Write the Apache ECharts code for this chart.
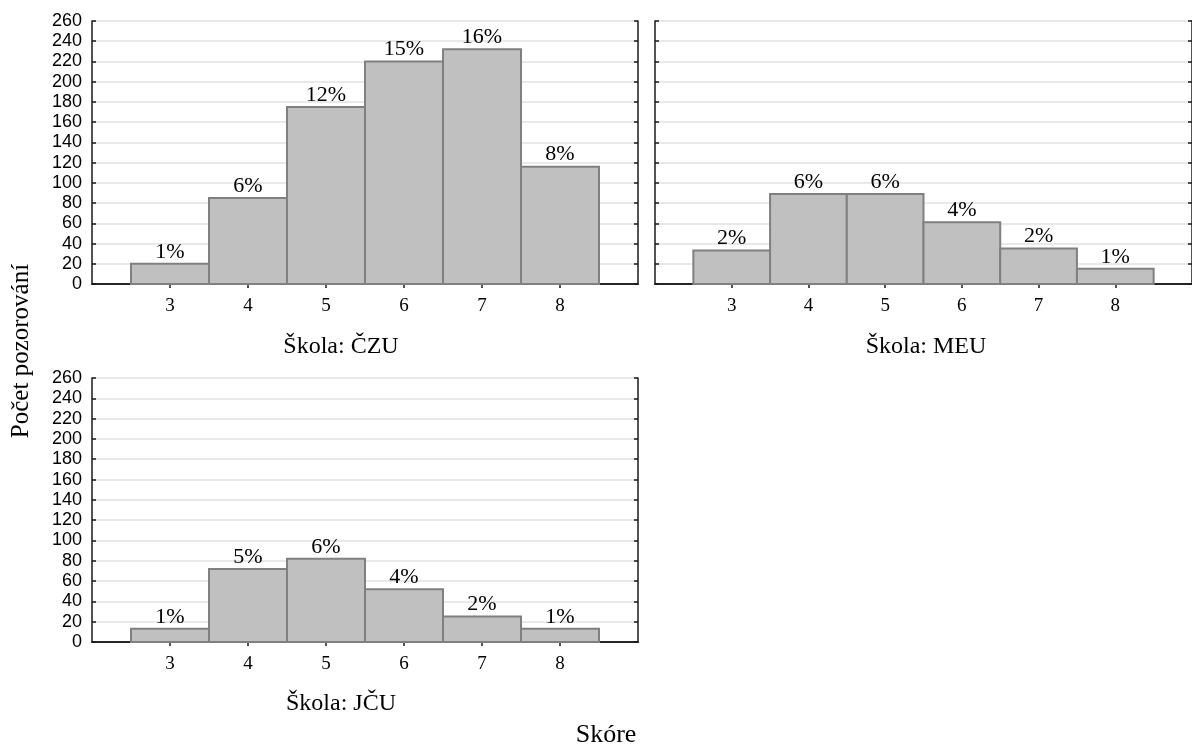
<!DOCTYPE html>
<html>
<head>
<meta charset="utf-8">
<script src="https://cdn.jsdelivr.net/npm/echarts@6/dist/echarts.min.js"></script>
<style>
html,body{margin:0;padding:0;background:#fff;}
#chart{width:1192px;height:749px;}
</style>
</head>
<body>
<div id="chart"></div>
<script>
// ---- data ----
const scores = [3, 4, 5, 6, 7, 8];
const countsCZU = [20, 85, 175, 220, 232, 116];
const countsMEU = [33, 89, 89, 61, 35, 15];
const countsJCU = [13, 72, 82, 52, 25, 13];
const pctCZU = ['1%', '6%', '12%', '15%', '16%', '8%'];
const pctMEU = ['2%', '6%', '6%', '4%', '2%', '1%'];
const pctJCU = ['1%', '5%', '6%', '4%', '2%', '1%'];
const panelTitles = ['Škola: ČZU', 'Škola: MEU', 'Škola: JČU'];
const yTitle = 'Počet pozorování';
const xTitle = 'Skóre';

const SERIF = '"Liberation Serif", "Times New Roman", serif';
const SANS = '"Liberation Sans", Arial, sans-serif';

const panels = [
  {counts: countsCZU, pct: pctCZU, grid: {left: 92, top: 21, width: 546, height: 263}, showY: true},
  {counts: countsMEU, pct: pctMEU, grid: {left: 655, top: 21, width: 546, height: 263}, showY: false},
  {counts: countsJCU, pct: pctJCU, grid: {left: 92, top: 378, width: 546, height: 264}, showY: true}
];

const grids = [], xAxes = [], yAxes = [], series = [];
const frame = {show: true, lineStyle: {color: '#1a1a1a', width: 1.5}};
const tickStyle = {color: '#1a1a1a', width: 1.5};
panels.forEach((p, i) => {
  grids.push(Object.assign({containLabel: false}, p.grid));
  xAxes.push({
    type: 'value', gridIndex: i, min: 2, max: 9, interval: 1, position: 'bottom',
    axisLine: frame, splitLine: {show: false},
    axisTick: {show: true, inside: true, length: 4, customValues: scores, lineStyle: tickStyle},
    axisLabel: {show: true, customValues: scores, margin: 13, color: '#000', fontFamily: SERIF, fontSize: 19}
  });
  xAxes.push({
    type: 'value', gridIndex: i, min: 2, max: 9, interval: 1, position: 'top',
    axisLine: frame, splitLine: {show: false},
    axisTick: {show: true, inside: true, length: 4, customValues: scores, lineStyle: tickStyle},
    axisLabel: {show: false}
  });
  yAxes.push({
    type: 'value', gridIndex: i, min: 0, max: 260, interval: 20, position: 'left',
    axisLine: frame,
    axisTick: {show: true, inside: true, length: 4, lineStyle: tickStyle},
    splitLine: {show: true, lineStyle: {color: '#e2e2e2', width: 1.5}},
    axisLabel: {show: p.showY, margin: 10, color: '#000', fontFamily: SANS, fontSize: 18}
  });
  yAxes.push({
    type: 'value', gridIndex: i, min: 0, max: 260, interval: 20, position: 'right',
    axisLine: frame, splitLine: {show: false},
    axisTick: {show: true, inside: true, length: 4, lineStyle: tickStyle},
    axisLabel: {show: false}
  });
  const data = scores.map((s, k) => [s, p.counts[k], p.pct[k]]);
  series.push({
    type: 'custom', xAxisIndex: 2 * i, yAxisIndex: 2 * i, data: data, z: 3,
    renderItem: function (params, api) {
      const x = api.value(0), v = api.value(1);
      const p0 = api.coord([x - 0.5, v]);
      const p1 = api.coord([x + 0.5, 0]);
      const lbl = data[params.dataIndex][2];
      return {
        type: 'group',
        children: [
          {type: 'rect', shape: {x: p0[0], y: p0[1], width: p1[0] - p0[0], height: p1[1] - p0[1]},
           style: {fill: '#c0c0c0', stroke: '#808080', lineWidth: 2}},
          {type: 'text', style: {text: lbl, x: (p0[0] + p1[0]) / 2, y: p0[1] - 1, align: 'center',
            verticalAlign: 'bottom', fill: '#000', font: '22px ' + SERIF}}
        ]
      };
    }
  });
});

const option = {
  animation: false,
  backgroundColor: '#fff',
  grid: grids,
  xAxis: xAxes,
  yAxis: yAxes,
  series: series,
  graphic: [
    {type: 'text', x: 341, y: 347, style: {text: panelTitles[0], align: 'center', verticalAlign: 'middle', font: '24px ' + SERIF, fill: '#000'}},
    {type: 'text', x: 926, y: 347, style: {text: panelTitles[1], align: 'center', verticalAlign: 'middle', font: '24px ' + SERIF, fill: '#000'}},
    {type: 'text', x: 341, y: 704, style: {text: panelTitles[2], align: 'center', verticalAlign: 'middle', font: '24px ' + SERIF, fill: '#000'}},
    {type: 'text', x: 606, y: 735, style: {text: xTitle, align: 'center', verticalAlign: 'middle', font: '26px ' + SERIF, fill: '#000'}},
    {type: 'text', x: 21, y: 351, rotation: Math.PI / 2, style: {text: yTitle, align: 'center', verticalAlign: 'middle', font: '25px ' + SERIF, fill: '#000'}}
  ]
};

const chart = echarts.init(document.getElementById('chart'), null, {renderer: 'canvas'});
chart.setOption(option);
</script>
</body>
</html>
